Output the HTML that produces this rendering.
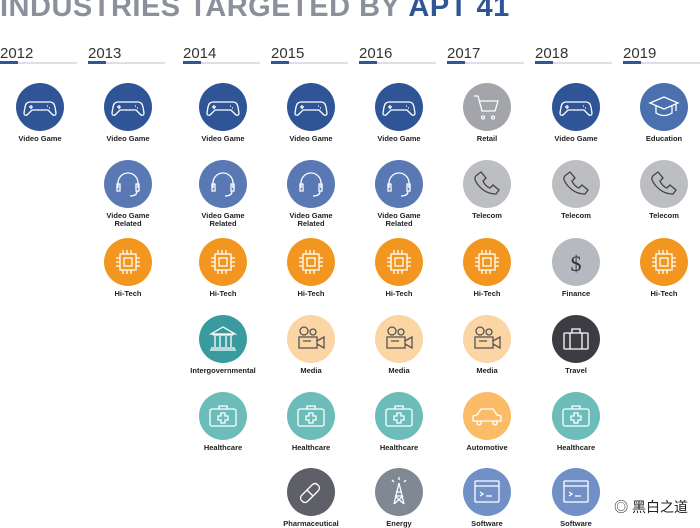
<!DOCTYPE html>
<html><head><meta charset="utf-8"><style>
body{margin:0;width:700px;height:525px;overflow:hidden;background:#fff;font-family:"Liberation Sans","Noto Sans CJK SC",sans-serif;position:relative}
.t{position:absolute;left:0;top:-9px;font-size:29px;font-weight:bold;color:#8b909b;letter-spacing:0.5px;white-space:nowrap}
.t b{color:#2f5596}
.yr{position:absolute;top:45px;font-size:15px;color:#333;}
.ln{position:absolute;top:62px;width:77px;height:2px;background:#dde0e6}
.ln i{position:absolute;left:0;top:-1px;width:18px;height:3px;background:#2f5596}
.it{position:absolute;width:100px;text-align:center}
.it svg{display:block;margin:0 auto}
.lb{font-size:7.5px;font-weight:bold;color:#222;line-height:8px;margin-top:4px}
.wm{position:absolute;right:8px;bottom:6px;font-size:14px;color:#222;background:rgba(255,255,255,.8);padding:2px 4px}
</style></head><body>
<div class="t">INDUSTRIES TARGETED BY <b>APT 41</b></div>
<div id="g"></div>
<div class="wm">◎ 黑白之道</div>
<script>
const years=["2012","2013","2014","2015","2016","2017","2018","2019"];
const yearX=[0,88,183,271,359,447,535,623];
const colCenters=[40,128,223,311,399,487,576,664];
const columns=[
["vg"],
["vg","vgr","ht"],
["vg","vgr","ht","ig","hc"],
["vg","vgr","ht","md","hc","ph"],
["vg","vgr","ht","md","hc","en"],
["rt","tc","ht","md","au","sw"],
["vg","tc","fi","tr","hc","sw"],
["ed","tc","ht"]];
const rowY=[83,160,238,315,392,468];
const info={
vg:["Video Game","#2f5596","#fff"],vgr:["Video Game<br>Related","#5a79b4","#fff"],ht:["Hi-Tech","#f2961f","#fff"],
ig:["Intergovernmental","#3a9b9f","#fff"],hc:["Healthcare","#6cbcb9","#fff"],md:["Media","#fbd5a3","#555"],
ph:["Pharmaceutical","#5f6067","#fff"],en:["Energy","#7f8893","#fff"],rt:["Retail","#a3a5aa","#fff"],
tc:["Telecom","#bdbec1","#444"],au:["Automotive","#fbbc68","#fff"],sw:["Software","#7090c6","#fff"],
fi:["Finance","#b6b9c0","#333"],tr:["Travel","#3b3d42","#fff"],ed:["Education","#4a70ae","#fff"]};
function icon(k,s){
 const a=`fill="none" stroke="${s}" stroke-width="1.3"`;
 switch(k){
 case"vg":return `<path ${a} d="M14 19h20q4 0 5 5l1 6q0 3-3 2l-5-5H16l-5 5q-3 1-3-2l1-6q1-5 5-5z"/><path ${a} d="M15 22v4M13 24h4M31 23h1M33 25h1"/>`;
 case"vgr":return `<path ${a} d="M14 28v-5a10 10 0 0 1 20 0v5M13 24h3v7h-3zM32 24h3v7h-3zM33 31q0 5-7 5"/>`;
 case"ht":return `<rect ${a} x="16" y="16" width="16" height="16"/><rect ${a} x="20" y="20" width="8" height="8"/><path ${a} d="M19 12v4M23 12v4M27 12v4M19 32v4M23 32v4M27 32v4M12 20h4M12 24h4M12 28h4M32 20h4M32 24h4M32 28h4"/>`;
 case"ig":return `<path ${a} d="M12 19l12-7 12 7zM14 20h20M16 21v11M21 21v11M27 21v11M32 21v11M12 33h24M11 35h26"/>`;
 case"hc":return `<rect ${a} x="11" y="17" width="26" height="17" rx="2"/><path ${a} d="M20 17v-3h8v3M22 21h4v3h3v4h-3v3h-4v-3h-3v-4h3z"/>`;
 case"md":return `<circle ${a} cx="17" cy="16" r="4"/><circle ${a} cx="26" cy="17" r="3"/><rect ${a} x="12" y="22" width="18" height="11"/><path ${a} d="M30 26l7-4v11l-7-4M16 26h8"/>`;
 case"ph":return `<path ${a} d="M15 33q-3-3 0-6l10-10q3-3 6 0t0 6L21 33q-3 3-6 0zM20 22l6 6"/>`;
 case"en":return `<path ${a} d="M24 15l-5 21M24 15l5 21M20 28h8M21 24h6M19 36l9-8M29 36l-9-8M17 12l2 2M31 12l-2 2M24 9v3"/>`;
 case"rt":return `<path ${a} d="M11 13h4l4 15h13l3-10H17M20 33a1.5 1.5 0 1 0 .1 0M30 33a1.5 1.5 0 1 0 .1 0"/>`;
 case"tc":return `<path ${a} d="M14 15l4-3 5 6-3 3q2 5 7 7l3-3 6 5-3 4q-10 0-17-8t-2-11z"/>`;
 case"au":return `<path ${a} d="M10 29v-5l4-1 4-6h12l4 6 4 1v5zM16 29a2 2 0 1 0 .1 0M32 29a2 2 0 1 0 .1 0"/>`;
 case"sw":return `<rect ${a} x="12" y="13" width="24" height="21" rx="1"/><path ${a} d="M12 18h24M17 24l3 2-3 2M23 28h6"/>`;
 case"fi":return `<text x="24" y="33" text-anchor="middle" font-size="22" fill="${s}" font-family="Liberation Serif">$</text>`;
 case"tr":return `<rect ${a} x="12" y="18" width="24" height="16" rx="1"/><path ${a} d="M20 18v-4h8v4M18 18v16M30 18v16"/>`;
 case"ed":return `<path ${a} d="M10 20l14-6 14 6-14 6zM16 23v7q8 5 16 0v-7M36 21v7"/>`;
 }}
const g=document.getElementById('g');
years.forEach((y,i)=>{
 const d=document.createElement('div');d.className='yr';d.style.left=yearX[i]+'px';d.textContent=y;
 
 
 g.appendChild(d);
 const l=document.createElement('div');l.className='ln';l.style.left=yearX[i]+'px';l.innerHTML='<i></i>';
 
 
 g.appendChild(l);
 columns[i].forEach((k,r)=>{
  const f=info[k];
  const e=document.createElement('div');e.className='it';
  e.style.left=(colCenters[i]-50)+'px';e.style.top=rowY[r]+'px';
  e.innerHTML=`<svg width="48" height="48" viewBox="0 0 48 48"><circle cx="24" cy="24" r="24" fill="${f[1]}"/>${icon(k,f[2])}</svg><div class="lb">${f[0]}</div>`;
  
  
  g.appendChild(e);
 });
});
</script>
</body></html>
